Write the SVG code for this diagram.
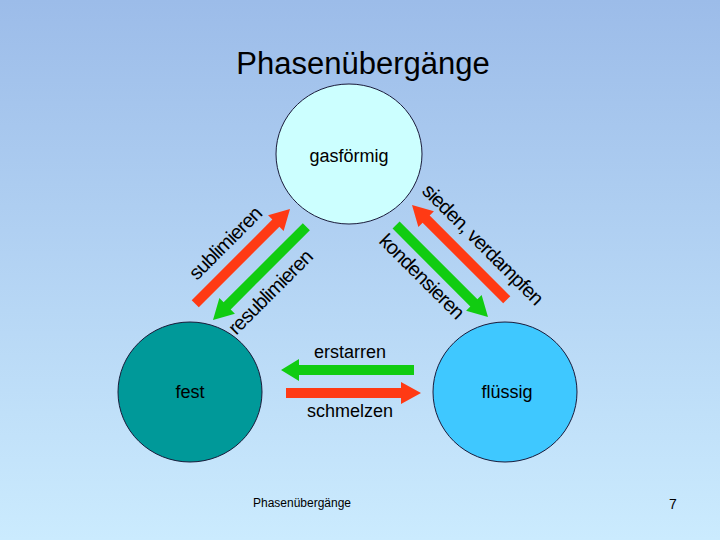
<svg xmlns="http://www.w3.org/2000/svg" width="720" height="540" viewBox="0 0 720 540">
<defs>
<linearGradient id="bg" x1="0" y1="0" x2="0" y2="1">
<stop offset="0" stop-color="#9cbce9"/>
<stop offset="1" stop-color="#cbebfe"/>
</linearGradient>
<style>
text{font-family:"Liberation Sans",Arial,sans-serif;fill:#000}
.lbl{font-size:18px;text-anchor:middle}
.diag{font-size:20px;text-anchor:middle;letter-spacing:-0.8px}
.node{stroke:#1a1a3a;stroke-width:1}
.red{fill:#ff3a14}
.green{fill:#11cc11}
</style>
</defs>
<rect width="720" height="540" fill="url(#bg)"/>
<text x="363" y="74" font-size="31" text-anchor="middle">Phasenübergänge</text>
<g id="gas"><ellipse class="node" cx="349" cy="154" rx="73" ry="70" fill="#ccffff"/><text class="lbl" x="349" y="162">gasförmig</text></g>
<g id="fest"><ellipse class="node" cx="190" cy="392" rx="72" ry="70" fill="#009999"/><text class="lbl" x="190" y="398">fest</text></g>
<g id="fluessig"><ellipse class="node" cx="505" cy="392" rx="72" ry="70" fill="#3fc8ff"/><text class="lbl" x="507" y="398">flüssig</text></g>
<g id="connectors">
<polygon class="green" points="414,365 299,365 299,359 281,370 299,381 299,375 414,375"/>
<polygon class="red" points="286,388 401,388 401,382 421,393 401,404 401,398 286,398"/>
<polygon class="red" transform="translate(290,209) rotate(-45)" points="0,0 -20,-11 -20,-5 -134,-5 -134,5 -20,5 -20,11"/>
<polygon class="green" transform="translate(213,320) rotate(135)" points="0,0 -20,-11 -20,-5 -132,-5 -132,5 -20,5 -20,11"/>
<polygon class="red" transform="translate(412,205) rotate(-135)" points="0,0 -20,-11 -20,-5 -134,-5 -134,5 -20,5 -20,11"/>
<polygon class="green" transform="translate(488,317) rotate(45)" points="0,0 -20,-11 -20,-5 -130,-5 -130,5 -20,5 -20,11"/>
<text class="lbl" x="350" y="358">erstarren</text>
<text class="lbl" x="350" y="417">schmelzen</text>
<text class="diag" transform="translate(230,248) rotate(-45)">sublimieren</text>
<text class="diag" transform="translate(275,297) rotate(-45)">resublimieren</text>
<text class="diag" transform="translate(478,249) rotate(45)">sieden, verdampfen</text>
<text class="diag" transform="translate(417,281) rotate(45)">kondensieren</text>
</g>
<text x="302" y="507" font-size="12" text-anchor="middle">Phasenübergänge</text>
<text x="673" y="509" font-size="14" text-anchor="middle">7</text>
</svg>
